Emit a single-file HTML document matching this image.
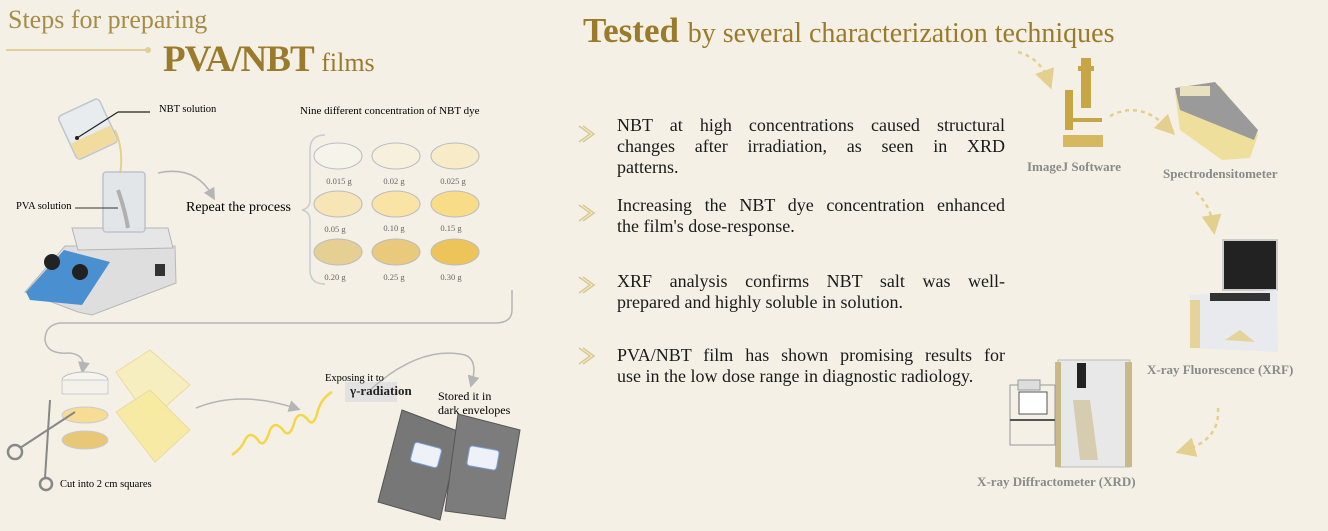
<!DOCTYPE html>
<html><head><meta charset="utf-8"><style>
html,body{margin:0;padding:0;background:#f4f0e5;}
#w{position:relative;width:1328px;height:531px;overflow:hidden;background:#f4f0e5;font-family:"Liberation Serif",serif;}
.t{position:absolute;white-space:nowrap;}
.b{position:absolute;left:617px;width:388px;font-size:18px;line-height:21px;color:#1a1a1a;}
.b div{text-align:justify;text-align-last:justify;}
.b div.l{text-align-last:left;}
.lab{position:absolute;font-weight:bold;font-size:13px;color:#8a8a8a;white-space:nowrap;}
</style></head><body><div id="w">
<svg width="1328" height="531" style="position:absolute;left:0;top:0">
<defs>
<marker id="ag" markerWidth="8" markerHeight="8" refX="4" refY="4" orient="auto"><path d="M0,0 L8,4 L0,8 z" fill="#b5b5b5"/></marker>
<marker id="ay" markerWidth="8" markerHeight="8" refX="4" refY="4" orient="auto"><path d="M0,0 L8,4 L0,8 z" fill="#e3cf8e"/></marker>
</defs>
<line x1="6" y1="50" x2="147" y2="50" stroke="#e0cf9a" stroke-width="2"/>
<circle cx="148" cy="50" r="3" fill="#e0cf9a"/>
<g transform="rotate(-25 88 128)">
<rect x="65" y="105" width="45" height="48" rx="4" fill="#e8ecef" stroke="#bfc6cc" stroke-width="1.5"/>
<rect x="66" y="135" width="43" height="17" fill="#f1dc9e"/>
</g>
<path d="M115 130 Q124 150 120 175" stroke="#e6d189" stroke-width="2" fill="none"/>
<line x1="77" y1="138" x2="118" y2="112" stroke="#222" stroke-width="1.2"/><line x1="118" y1="112" x2="150" y2="112" stroke="#222" stroke-width="1.2"/>
<circle cx="77" cy="138" r="2" fill="#222"/>
<polygon points="25,292 65,246 175,246 176,283 92,315 78,312" fill="#dedede" stroke="#b8b8b8"/>
<polygon points="26,292 64,250 110,262 82,305 30,300" fill="#4a90d0"/>
<polygon points="72,228 168,228 173,248 78,250" fill="#e6e6e6" stroke="#b5b5b5"/>
<circle cx="52" cy="262" r="8" fill="#222"/><circle cx="80" cy="272" r="8" fill="#222"/>
<rect x="155" y="264" width="10" height="12" fill="#333"/>
<rect x="103" y="172" width="42" height="60" rx="3" fill="#e2e6ea" stroke="#b8c0c8" stroke-width="1.5" opacity="0.9"/>
<path d="M118 190 Q125 210 128 228" stroke="#b0b0b0" stroke-width="4" fill="none"/>
<line x1="75" y1="208" x2="118" y2="208" stroke="#333"/>
<path d="M158 173 Q195 165 212 195" stroke="#b5b5b5" stroke-width="1.5" fill="none" marker-end="url(#ag)"/>
<path d="M325 135 Q310 135 310 150 L310 200 Q310 208 302 210 Q310 212 310 220 L310 270 Q310 284 325 284" stroke="#c8cbd0" stroke-width="1.5" fill="none"/>
<g stroke="#b9bcc2" stroke-width="1">
<ellipse cx="338" cy="156" rx="24" ry="13" fill="#f6f3ea"/><ellipse cx="396" cy="156" rx="24" ry="13" fill="#f7f0dc"/><ellipse cx="455" cy="156" rx="24" ry="13" fill="#f8ebc8"/>
<ellipse cx="338" cy="204" rx="24" ry="13" fill="#f8e5b5"/><ellipse cx="396" cy="204" rx="24" ry="13" fill="#f9e3a5"/><ellipse cx="455" cy="204" rx="24" ry="13" fill="#f8dc88"/>
<ellipse cx="338" cy="252" rx="24" ry="13" fill="#e6cf92"/><ellipse cx="396" cy="252" rx="24" ry="13" fill="#e9c97c"/><ellipse cx="455" cy="252" rx="24" ry="13" fill="#edc45a"/>
</g>
<g font-size="8.5" fill="#666" font-family="Liberation Serif,serif" text-anchor="middle">
<text x="339" y="184">0.015 g</text><text x="394" y="184">0.02 g</text><text x="453" y="184">0.025 g</text>
<text x="335" y="232">0.05 g</text><text x="394" y="231">0.10 g</text><text x="451" y="231">0.15 g</text>
<text x="335" y="280">0.20 g</text><text x="394" y="280">0.25 g</text><text x="451" y="280">0.30 g</text>
</g>
<path d="M512 290 L512 310 Q512 323 495 323 L60 323 Q45 325 45 340 Q47 355 70 353 Q85 355 83 368" stroke="#b5b5b5" stroke-width="1.5" fill="none" marker-end="url(#ag)"/>
<ellipse cx="85" cy="380" rx="23" ry="8" fill="#f7f4ee" stroke="#b9bcc2"/>
<rect x="62" y="380" width="46" height="14" fill="#f4f1ea" stroke="#c8cbd0"/>
<ellipse cx="85" cy="415" rx="23" ry="8" fill="#f6dc95" stroke="#c8cbd0"/>
<ellipse cx="85" cy="440" rx="23" ry="9" fill="#e8c877" stroke="#c8cbd0"/>
<line x1="50" y1="400" x2="45" y2="478" stroke="#888" stroke-width="2"/>
<line x1="75" y1="412" x2="20" y2="448" stroke="#888" stroke-width="2"/>
<circle cx="15" cy="452" r="7" fill="none" stroke="#888" stroke-width="2.5"/><circle cx="46" cy="484" r="6" fill="none" stroke="#888" stroke-width="2.5"/>
<polygon points="116,372 150,350 190,385 150,420" fill="#f8eebc" stroke="#ead89a" opacity="0.9"/>
<polygon points="116,412 150,390 190,430 155,462" fill="#f8ea9e" stroke="#ead89a" opacity="0.9"/>
<path d="M196 408 Q240 390 295 408" stroke="#b5b5b5" stroke-width="1.5" fill="none" marker-end="url(#ag)"/>
<path d="M232 455 Q242 448 245 440 Q250 430 258 440 Q264 450 270 430 Q275 420 283 430 Q290 440 295 420 Q300 410 308 420 Q314 428 318 410 Q322 398 332 392" stroke="#f3d74a" stroke-width="2.5" fill="none"/>
<rect x="345" y="382" width="52" height="20" fill="#e2e2e2"/>
<path d="M370 390 Q420 345 465 355 Q478 360 472 382" stroke="#b5b5b5" stroke-width="1.5" fill="none" marker-end="url(#ag)"/>
<polygon points="402,410 460,432 440,520 378,502" fill="#777" stroke="#555"/>
<polygon points="458,414 520,430 505,519 445,511" fill="#7c7c7c" stroke="#555"/>
<rect x="412" y="445" width="28" height="20" rx="3" fill="#eef2f8" stroke="#7aa0d8" transform="rotate(15 426 455)"/>
<rect x="468" y="448" width="30" height="20" rx="3" fill="#eef2f8" stroke="#7aa0d8" transform="rotate(10 483 458)"/>
<g fill="none" stroke="#d9c98e" stroke-width="1.5">
<path d="M579 126 L590 134 L579 142 M583 126 L594 134 L583 142"/>
<path d="M579 205 L590 213 L579 221 M583 205 L594 213 L583 221"/>
<path d="M579 277 L590 285 L579 293 M583 277 L594 285 L583 293"/>
<path d="M579 348 L590 356 L579 364 M583 348 L594 356 L583 364"/>
</g>
<g stroke="#e3cf8e" stroke-width="2.5" fill="none" stroke-dasharray="4 4">
<path d="M1018 52 Q1040 58 1048 80" marker-end="url(#ay)"/>
<path d="M1110 116 Q1140 100 1168 128" marker-end="url(#ay)"/>
<path d="M1196 192 Q1210 205 1213 225" marker-end="url(#ay)"/>
<path d="M1218 408 Q1220 440 1185 450" marker-end="url(#ay)"/>
</g>
<g fill="#c9a645">
<rect x="1081" y="58" width="10" height="50"/><rect x="1065" y="90" width="8" height="40"/><rect x="1072" y="118" width="30" height="4"/>
<rect x="1063" y="135" width="40" height="12" fill="#d6b860"/><rect x="1078" y="66" width="16" height="5"/>
</g>
<polygon points="1175,92 1220,86 1258,135 1250,158 1222,160 1180,130" fill="#eedf9c"/>
<polygon points="1175,88 1215,82 1258,130 1254,140 1180,110" fill="#9a9a9a"/>
<rect x="1180" y="86" width="30" height="10" fill="#e9e0c0"/>
<rect x="1223" y="240" width="54" height="50" fill="#222" stroke="#ccc" stroke-width="2"/>
<polygon points="1190,295 1277,290 1278,352 1190,348" fill="#e8eaee"/>
<rect x="1190" y="300" width="10" height="48" fill="#e4d49a"/>
<rect x="1210" y="293" width="60" height="8" fill="#333"/>
<polygon points="1225,340 1240,330 1255,342" fill="#e4d49a"/>
<rect x="1058" y="360" width="72" height="107" fill="#e8e8e8" stroke="#bbb"/>
<rect x="1055" y="362" width="6" height="105" fill="#c9b988"/><rect x="1125" y="362" width="7" height="105" fill="#c9b988"/>
<polygon points="1073,400 1090,400 1098,460 1080,460" fill="#c9b988" opacity="0.6"/>
<rect x="1077" y="363" width="9" height="25" fill="#222"/>
<rect x="1010" y="385" width="45" height="60" fill="none" stroke="#999"/>
<rect x="1018" y="380" width="22" height="10" fill="#ddd" stroke="#999"/>
<rect x="1019" y="392" width="28" height="22" fill="#fff" stroke="#555"/>
<line x1="1010" y1="420" x2="1055" y2="420" stroke="#555" stroke-width="2"/>
</svg>
<div class="t" style="left:8px;top:5px;font-size:26px;color:#a58d48;">Steps for preparing</div>
<div class="t" style="left:163px;top:38px;font-size:37px;font-weight:bold;color:#9a7b2c;letter-spacing:-1px;">PVA/NBT <span style="font-size:26px;font-weight:normal;letter-spacing:0;">films</span></div>
<div class="t" style="left:583px;top:11px;font-size:35px;font-weight:bold;color:#9a7b2c;">Tested <span style="font-size:28px;font-weight:normal;">by several characterization techniques</span></div>
<div class="t" style="left:159px;top:104px;font-size:10.5px;">NBT solution</div>
<div class="t" style="left:16px;top:201px;font-size:10.5px;">PVA solution</div>
<div class="t" style="left:186px;top:200px;font-size:14px;">Repeat the process</div>
<div class="t" style="left:300px;top:105px;font-size:11px;">Nine different concentration of NBT dye</div>
<div class="t" style="left:60px;top:479px;font-size:10.5px;">Cut into 2 cm squares</div>
<div class="t" style="left:325px;top:373px;font-size:10.5px;">Exposing it to</div>
<div class="t" style="left:350px;top:383px;font-size:13px;font-weight:bold;color:#222;">γ-radiation</div>
<div class="t" style="left:438px;top:389px;font-size:12px;line-height:14px;">Stored it in<br>dark envelopes</div>
<div class="b" style="top:115px;"><div>NBT at high concentrations caused structural</div><div>changes after irradiation, as seen in XRD</div><div class="l">patterns.</div></div>
<div class="b" style="top:195px;"><div>Increasing the NBT dye concentration enhanced</div><div class="l">the film's dose-response.</div></div>
<div class="b" style="top:271px;"><div>XRF analysis confirms NBT salt was well-</div><div class="l">prepared and highly soluble in solution.</div></div>
<div class="b" style="top:345px;"><div>PVA/NBT film has shown promising results for</div><div class="l">use in the low dose range in diagnostic radiology.</div></div>
<div class="lab" style="left:1027px;top:159px;">ImageJ Software</div>
<div class="lab" style="left:1163px;top:166px;">Spectrodensitometer</div>
<div class="lab" style="left:1147px;top:362px;">X-ray Fluorescence (XRF)</div>
<div class="lab" style="left:977px;top:474px;">X-ray Diffractometer (XRD)</div>
</div></body></html>
